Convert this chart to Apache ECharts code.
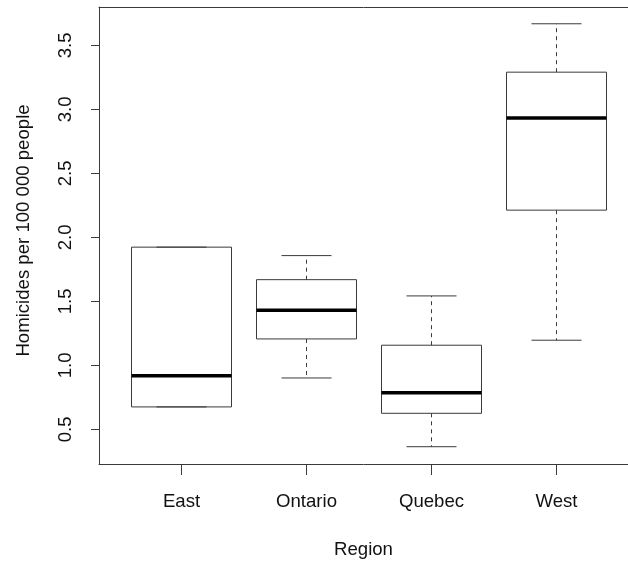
<!DOCTYPE html>
<html>
<head>
<meta charset="utf-8">
<script src="https://cdn.jsdelivr.net/npm/echarts@6/dist/echarts.min.js"></script>
<style>
  html, body { margin: 0; padding: 0; background: #fff; }
  #chart { width: 628px; height: 562px; }
</style>
</head>
<body>
<div id="chart"></div>
<script>
const categories = ['East', 'Ontario', 'Quebec', 'West'];
const minVals    = [0.676, 0.902, 0.365, 1.197];
const q1Vals     = [0.676, 1.207, 0.626, 2.213];
const medianVals = [0.920, 1.431, 0.787, 2.932];
const q3Vals     = [1.924, 1.670, 1.158, 3.291];
const maxVals    = [1.924, 1.858, 1.543, 3.669];
const yTicks = [0.5, 1.0, 1.5, 2.0, 2.5, 3.0, 3.5];
const xTicks = [1, 2, 3, 4];

const FONT = 'Liberation Sans, Arial, Helvetica, sans-serif';
const LINE = '#3a3a3a';
const FS = 18.6;

const data = categories.map((c, i) => [i + 1, minVals[i], q1Vals[i], medianVals[i], q3Vals[i], maxVals[i]]);

const chart = echarts.init(document.getElementById('chart'), null, { renderer: 'canvas' });

function renderItem(params, api) {
  const x = api.value(0);
  const pMin = api.coord([x, api.value(1)]);
  const pQ1 = api.coord([x, api.value(2)]);
  const pMed = api.coord([x, api.value(3)]);
  const pQ3 = api.coord([x, api.value(4)]);
  const pMax = api.coord([x, api.value(5)]);
  const bw = api.size([0.8, 0])[0];
  const cw = bw / 2;
  const cx = pMed[0];
  const thin = { stroke: LINE, lineWidth: 1, fill: null };
  const dashed = { stroke: LINE, lineWidth: 1, lineDash: [4, 4], fill: null };
  return {
    type: 'group',
    children: [
      { type: 'line', shape: { x1: cx, y1: pQ1[1], x2: cx, y2: pMin[1] }, style: dashed },
      { type: 'line', shape: { x1: cx, y1: pQ3[1], x2: cx, y2: pMax[1] }, style: dashed },
      { type: 'line', shape: { x1: cx - cw / 2, y1: pMin[1], x2: cx + cw / 2, y2: pMin[1] }, style: thin },
      { type: 'line', shape: { x1: cx - cw / 2, y1: pMax[1], x2: cx + cw / 2, y2: pMax[1] }, style: thin },
      { type: 'rect', shape: { x: cx - bw / 2, y: pQ3[1], width: bw, height: pQ1[1] - pQ3[1] }, style: thin },
      { type: 'line', shape: { x1: cx - bw / 2, y1: pMed[1], x2: cx + bw / 2, y2: pMed[1] }, style: { stroke: '#000', lineWidth: 3.5 } }
    ]
  };
}

chart.setOption({
  animation: false,
  backgroundColor: '#fff',
  grid: { left: 99, top: 7, right: 0, height: 457, outerBoundsMode: 'none', containLabel: false },
  xAxis: [{
    type: 'value', min: 0.34, max: 4.572, position: 'bottom',
    name: 'Region', nameLocation: 'middle', nameGap: 76,
    nameTextStyle: { fontFamily: FONT, fontSize: FS, color: '#111' },
    axisLine: { show: true, onZero: false, lineStyle: { color: LINE, width: 1 } },
    splitLine: { show: false },
    axisTick: { show: true, customValues: xTicks, length: 11, inside: false, lineStyle: { color: LINE, width: 1 } },
    axisLabel: {
      customValues: xTicks, margin: 28,
      fontFamily: FONT, fontSize: FS, color: '#111',
      formatter: v => categories[Math.round(v) - 1] || ''
    }
  }, {
    type: 'value', min: 0.34, max: 4.572, position: 'top',
    axisLine: { show: true, onZero: false, lineStyle: { color: LINE, width: 1 } },
    splitLine: { show: false },
    axisTick: { show: false },
    axisLabel: { show: false }
  }],
  yAxis: {
    type: 'value', min: 0.23, max: 3.80,
    name: 'Homicides per 100 000 people', nameLocation: 'middle', nameGap: 66, nameRotate: 90,
    nameTextStyle: { fontFamily: FONT, fontSize: FS, color: '#111', padding: [0, 0, 0, 10] },
    axisLine: { show: true, onZero: false, lineStyle: { color: LINE, width: 1 } },
    splitLine: { show: false },
    axisTick: { show: true, customValues: yTicks, length: 8, inside: false, lineStyle: { color: LINE, width: 1 } },
    axisLabel: {
      customValues: yTicks, margin: 24, rotate: 90,
      fontFamily: FONT, fontSize: FS, color: '#111',
      formatter: v => v.toFixed(1)
    }
  },
  series: [{
    type: 'custom',
    renderItem: renderItem,
    data: data,
    xAxisIndex: 0,
    encode: { x: 0, y: [1, 2, 3, 4, 5] },
    clip: false
  }]
});
</script>
</body>
</html>
